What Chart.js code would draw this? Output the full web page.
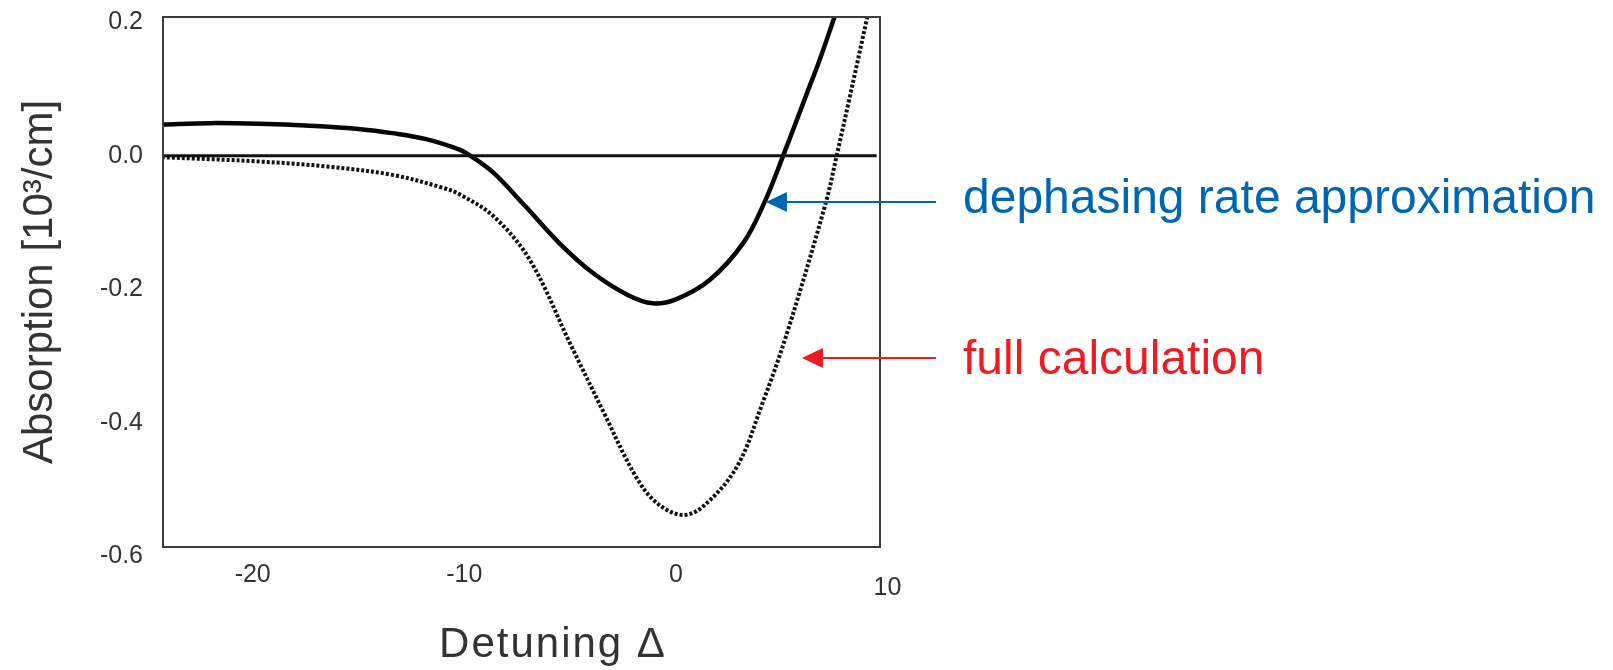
<!DOCTYPE html>
<html>
<head>
<meta charset="utf-8">
<script src="https://cdn.jsdelivr.net/npm/chart.js@4.4.1/dist/chart.umd.min.js"></script>
<style>
  html, body { margin: 0; padding: 0; background: #ffffff; }
  canvas { display: block; }
</style>
</head>
<body>
<canvas id="absorptionChart" width="1613" height="670"></canvas>
<script>
// Absorption spectrum vs detuning: dephasing-rate approximation and full calculation
const detuningApprox   = [-24.3, -22.0, -19.7, -17.3, -14.9, -13.4, -11.8, -10.2, -9.7, -8.6, -7.1, -5.5, -3.9, -2.3, -1.1, 0.0, 1.6, 3.2, 4.2, 5.07, 6.2, 6.8, 7.5];
const absorptionApprox = [0.047, 0.049, 0.048, 0.045, 0.040, 0.034, 0.025, 0.009, 0.0, -0.026, -0.076, -0.131, -0.176, -0.208, -0.221, -0.215, -0.186, -0.130, -0.069, 0.0, 0.094, 0.144, 0.208];

const detuningFull   = [-24.3, -19.7, -16.5, -13.4, -11.0, -10.2, -8.6, -6.9, -5.0, -3.4, -1.9, -0.9, 0.3, 1.3, 2.9, 4.1, 5.2, 7.1, 7.6, 8.2, 9.05];
const absorptionFull = [-0.002, -0.0085, -0.016, -0.0285, -0.048, -0.058, -0.091, -0.156, -0.281, -0.385, -0.480, -0.520, -0.538, -0.525, -0.465, -0.370, -0.271, -0.069, 0.0, 0.085, 0.208];

const zeroLineDetuning   = [-24.3, 9.49];
const zeroLineAbsorption = [0, 0];

const xTickValues = [-20, -10, 0, 10];
const yTickValues = [0.2, 0.0, -0.2, -0.4, -0.6];
const xRange = [-24.24, 9.65];
const yRange = [-0.586, 0.208];

const FONT = "'Liberation Sans', Arial, Helvetica, sans-serif";
const INK = '#333333';

const toPoints = (xs, ys) => xs.map((x, i) => ({ x, y: ys[i] }));

// Callout arrows pointing at the curves, tips given in data coordinates
const callouts = [
  { text: 'dephasing rate approximation', color: '#0066b3', tip: [4.26, -0.069], tailX: 936, textX: 963, baselineDy: 11 },
  { text: 'full calculation',             color: '#ed1c24', tip: [5.96, -0.303], tailX: 936, textX: 963, baselineDy: 16 }
];

const plotFrame = {
  id: 'plotFrame',
  afterDatasetsDraw(chart) {
    const { ctx, chartArea: a } = chart;
    ctx.save();
    ctx.strokeStyle = '#3c3c3c';
    ctx.lineWidth = 2;
    ctx.strokeRect(a.left, a.top, a.right - a.left, a.bottom - a.top);
    ctx.restore();
  }
};

const calloutLayer = {
  id: 'calloutLayer',
  afterDraw(chart) {
    const { ctx } = chart;
    const xs = chart.scales.x, ys = chart.scales.y;
    ctx.save();
    for (const c of callouts) {
      const tx = xs.getPixelForValue(c.tip[0]);
      const ty = ys.getPixelForValue(c.tip[1]);
      ctx.strokeStyle = c.color;
      ctx.fillStyle = c.color;
      ctx.lineWidth = 2;
      ctx.beginPath();
      ctx.moveTo(tx + 18, ty);
      ctx.lineTo(c.tailX, ty);
      ctx.stroke();
      ctx.beginPath();
      ctx.moveTo(tx, ty);
      ctx.lineTo(tx + 21, ty - 10);
      ctx.lineTo(tx + 21, ty + 10);
      ctx.closePath();
      ctx.fill();
      ctx.font = '48px ' + FONT;
      ctx.textAlign = 'left';
      ctx.textBaseline = 'alphabetic';
      ctx.fillText(c.text, c.textX, ty + c.baselineDy);
    }
    // horizontal axis caption
    ctx.fillStyle = INK;
    ctx.font = '42px ' + FONT;
    ctx.letterSpacing = '2px';
    ctx.textAlign = 'center';
    ctx.textBaseline = 'alphabetic';
    ctx.fillText('Detuning \u0394', 553, 657);
    ctx.restore();
  }
};

new Chart(document.getElementById('absorptionChart').getContext('2d'), {
  type: 'line',
  data: {
    datasets: [
      {
        label: 'zero',
        data: toPoints(zeroLineDetuning, zeroLineAbsorption),
        borderColor: '#111111',
        borderWidth: 3,
        pointRadius: 0,
        clip: 0
      },
      {
        label: 'full calculation',
        data: toPoints(detuningFull, absorptionFull),
        borderColor: '#111111',
        borderWidth: 4,
        borderDash: [3, 2],
        pointRadius: 0,
        tension: 0.35,
        clip: 0
      },
      {
        label: 'dephasing rate approximation',
        data: toPoints(detuningApprox, absorptionApprox),
        borderColor: '#050505',
        borderWidth: 4.5,
        pointRadius: 0,
        tension: 0.35,
        clip: 0
      }
    ]
  },
  options: {
    responsive: false,
    animation: false,
    devicePixelRatio: 1,
    layout: { padding: { left: 0, top: 17, right: 733, bottom: 0 } },
    plugins: { legend: { display: false }, tooltip: { enabled: false } },
    scales: {
      x: {
        type: 'linear',
        min: xRange[0],
        max: xRange[1],
        bounds: 'data',
        grid: { display: false, drawTicks: false },
        border: { display: false },
        afterBuildTicks: s => { s.ticks = xTickValues.map(v => ({ value: v })); },
        afterFit: s => { s.height = 123; s.paddingLeft = 0; s.paddingRight = 0; },
        ticks: {
          autoSkip: false,
          maxRotation: 0,
          padding: 13,
          color: INK,
          // the last label sits a little lower than the others
          font: c => ({ size: 25, family: FONT, lineHeight: (c.tick && c.tick.value === 10) ? 2.24 : 1.2 }),
          callback: v => String(v)
        }
      },
      y: {
        type: 'linear',
        min: yRange[0],
        max: yRange[1],
        bounds: 'data',
        grid: { display: false, drawTicks: false },
        border: { display: false },
        afterBuildTicks: s => { s.ticks = yTickValues.map(v => ({ value: v })); },
        afterFit: s => { s.width = 163; s.paddingTop = 0; s.paddingBottom = 0; },
        ticks: {
          autoSkip: false,
          padding: 20,
          color: INK,
          font: { size: 25, family: FONT },
          callback: v => Number(v).toFixed(1)
        },
        title: {
          display: true,
          text: 'Absorption [10\u00B3/cm]',
          color: INK,
          font: { size: 42, family: FONT },
          padding: { top: 15, bottom: 0 }
        }
      }
    }
  },
  plugins: [plotFrame, calloutLayer]
});
</script>
</body>
</html>
